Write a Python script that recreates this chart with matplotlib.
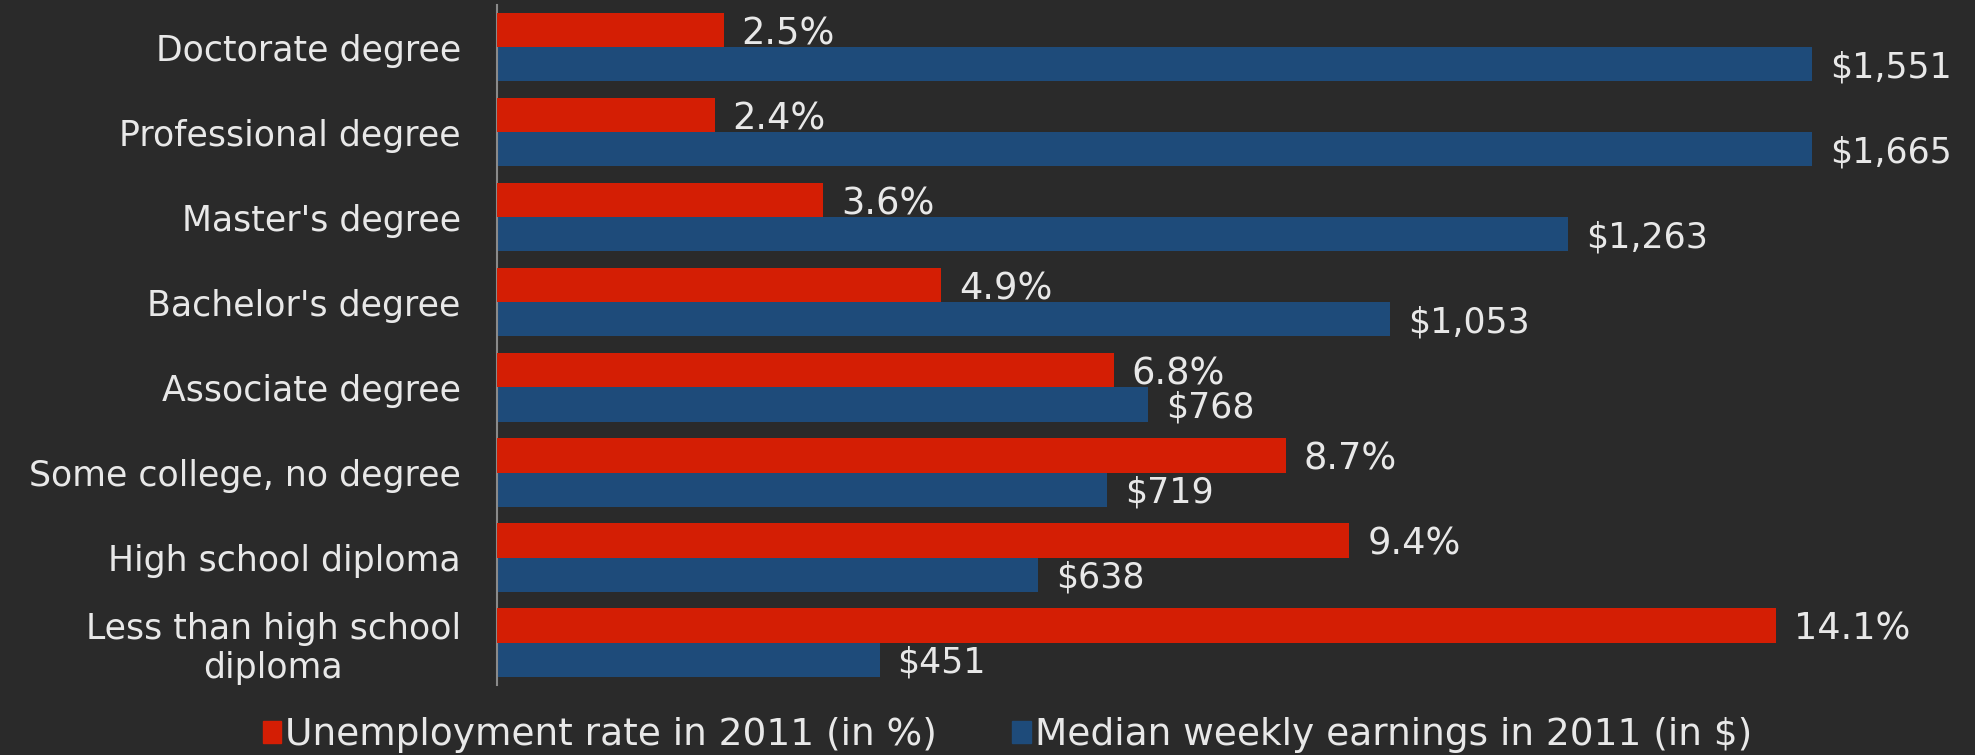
import matplotlib.pyplot as plt
from matplotlib.patches import Patch
import numpy as np

categories = ["Doctorate degree", "Professional degree", "Master's degree",
              "Bachelor's degree", "Associate degree", "Some college, no degree",
              "High school diploma", "Less than high school\ndiploma"]
unemployment = [2.5, 2.4, 3.6, 4.9, 6.8, 8.7, 9.4, 14.1]
earnings = [1551, 1665, 1263, 1053, 768, 719, 638, 451]
legend_labels = ["Unemployment rate in 2011 (in %)", "Median weekly earnings in 2011 (in $)"]

bg = '#2a2a2a'
red = '#d41e04'
blue = '#1e4b7a'
txt = '#e8e8e8'

plt.rcParams['font.family'] = ['DejaVu Sans']

fig = plt.figure(figsize=(19.75, 7.55), dpi=100, facecolor=bg)
ax = fig.add_axes([0.2516, 0.0927, 0.6658, 0.9007])
ax.set_facecolor(bg)

y = np.arange(len(categories))

# earnings (blue) on the bottom axis, bars clip at the right edge
ax.barh(y + 0.2, earnings, height=0.4, color=blue)
ax.set_xlim(0, 1550)
ax.set_ylim(len(categories) - 0.5, -0.5)

# unemployment (red) on its own scale
ax2 = ax.twiny()
ax2.barh(y - 0.205, unemployment, height=0.41, color=red)
ax2.set_xlim(0, 14.5)

for a in (ax, ax2):
    a.set_xticks([])
    for s in a.spines.values():
        s.set_visible(False)
ax.spines['left'].set_visible(True)
ax.spines['left'].set_color('#8a8a8a')
ax.spines['left'].set_linewidth(1.5)

ax.set_yticks(y, categories)
ax.tick_params(axis='y', length=0, pad=26, labelsize=25, labelcolor=txt)
for lbl in ax.get_yticklabels():
    lbl.set_multialignment('center')

# value labels
for i, v in enumerate(unemployment):
    ax2.annotate(f"{v}%", xy=(v, i - 0.205), xytext=(13, -3), textcoords='offset points',
                 va='center', ha='left', fontsize=26.5, color=txt, annotation_clip=False)
xmax = ax.get_xlim()[1]
for i, v in enumerate(earnings):
    ax.annotate(f"${v:,}", xy=(min(v, xmax), i + 0.2), xytext=(13, -2), textcoords='offset points',
                va='center', ha='left', fontsize=25, color=txt, annotation_clip=False)

handles = [Patch(color=red), Patch(color=blue)]
fig.legend(handles, legend_labels, loc='center', bbox_to_anchor=(0.51, 0.026), ncol=2,
           frameon=False, fontsize=27, handlelength=0.5, handleheight=0.5,
           handletextpad=0.1, columnspacing=2.0, labelcolor=txt, borderpad=0)

fig.savefig('out.png', dpi=100, facecolor=bg)
